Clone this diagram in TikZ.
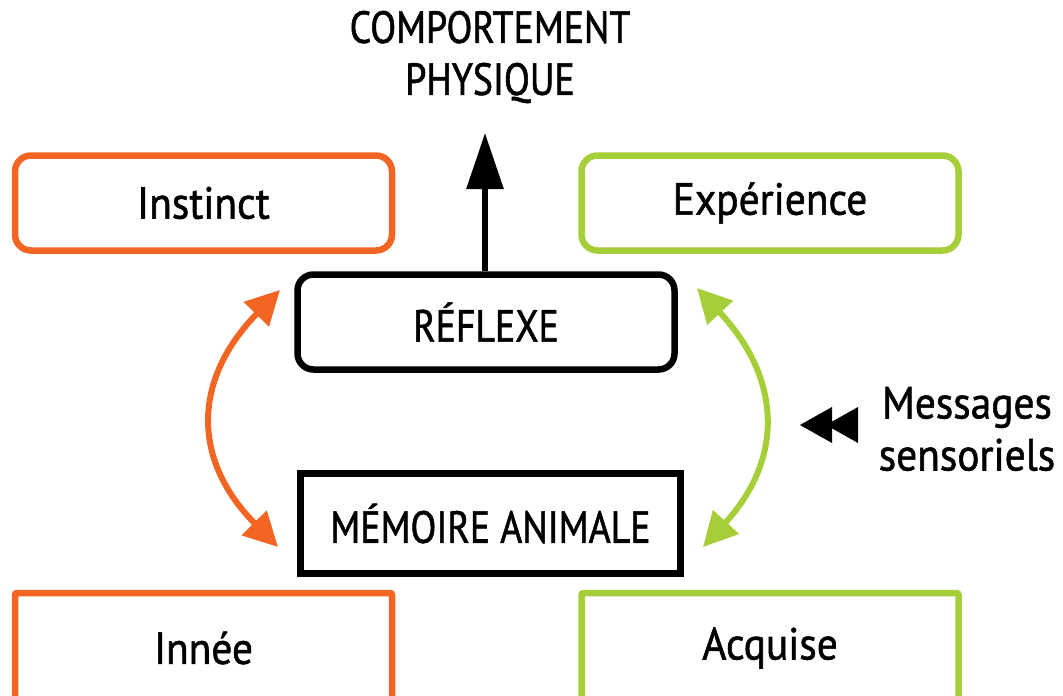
\documentclass[tikz,border=0pt]{standalone}
\usepackage{fontspec}
\setmainfont{PT Sans}[FakeStretch=0.92, FakeBold=1.2]
\newfontfamily\capsfont{PT Sans}[FakeStretch=0.84, FakeBold=1.2]
\usetikzlibrary{arrows.meta}
\definecolor{orng}{HTML}{F26522}
\definecolor{grn}{HTML}{A6CE39}
\tikzset{
  txt/.style={font=\fontsize{45}{48}\selectfont},
  captxt/.style={font=\capsfont\fontsize{45}{52}\selectfont},
  box/.style={draw, line width=6.5pt, minimum width=377pt, minimum height=95pt, inner sep=0pt, txt},
  rbox/.style={box, rounded corners=16pt},
  lbl/.style={txt, inner sep=0pt},
  dbl/.style={line width=6pt, {Triangle[width=34pt,length=34pt]}-{Triangle[width=34pt,length=34pt]}},
}
\begin{document}
\begin{tikzpicture}[x=1pt,y=-1pt]
\useasboundingbox (0,0) rectangle (1063,696);
\clip (0,0) rectangle (1063,696);
\node[rbox, draw=orng] (instinct) at (203.5,203) {\raisebox{-2pt}{Instinct}};
\node[rbox, draw=grn] (experience) at (770,203) {\raisebox{-2pt}{Expérience}};
\node[rbox, draw=black, captxt] (reflexe) at (486,322) {RÉFLEXE};
\node[box, draw=black, captxt, minimum width=380pt, minimum height=100pt] (memoire) at (490.5,523.5) {MÉMOIRE ANIMALE};
\node[box, draw=orng, minimum height=110pt, rounded corners=2pt] (innee) at (203.5,648) {Innée};
\node[box, draw=grn, minimum height=110pt, rounded corners=2pt] (acquise) at (770,648) {Acquise};
\node[lbl, captxt, align=center] (comp) at (490,57) {COMPORTEMENT\\PHYSIQUE};
\node[lbl, align=center, font=\fontsize{45}{52}\selectfont] (msg) at (967,429) {Messages\\sensoriels};
\coordinate (top) at (485,133);
\draw[line width=6pt, -{Triangle[width=36pt,length=56pt]}] (reflexe.north -| top) -- (top);
\coordinate (o1) at (280,290);
\coordinate (o2) at (278,547);
\draw[dbl, orng] (o1) .. controls (192,380) and (192,460) .. (o2);
\coordinate (g1) at (697,288);
\coordinate (g2) at (703,547);
\draw[dbl, grn] (g1) .. controls (783,380) and (783,460) .. (g2);
\fill (800,425) -- (832,407) -- (832,443) -- cycle;
\fill (826,425) -- (858,407) -- (858,443) -- cycle;
\end{tikzpicture}
\end{document}
